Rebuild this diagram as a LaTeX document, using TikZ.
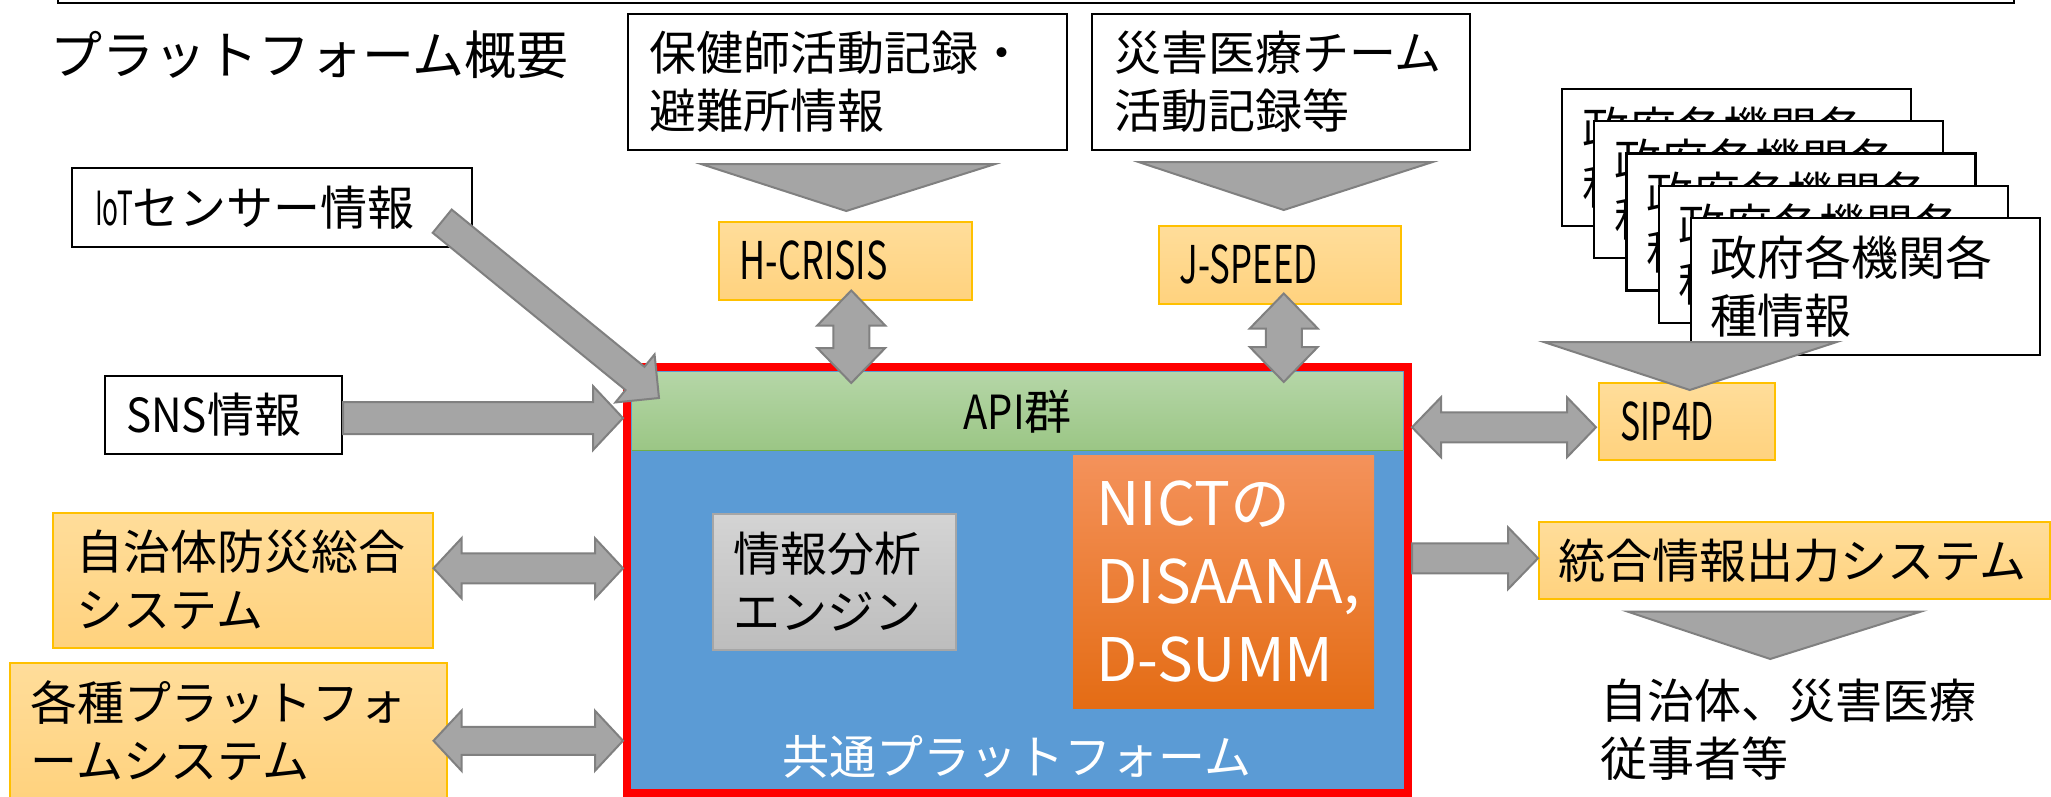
\documentclass[tikz,border=0pt]{standalone}
\usepackage{fontspec}
\setmainfont{Noto Sans CJK JP}
\usepackage{graphicx}
\usetikzlibrary{calc,positioning}

\definecolor{arrowgray}{HTML}{A5A5A5}
\definecolor{arrowedge}{HTML}{808080}
\definecolor{sysedge}{HTML}{FFC000}
\definecolor{systop}{HTML}{FFDD9A}
\definecolor{sysbottom}{HTML}{FFD27E}
\definecolor{apitop}{HTML}{B5D6A7}
\definecolor{apibottom}{HTML}{9BC685}
\definecolor{apiline}{HTML}{70AD47}
\definecolor{platblue}{HTML}{5B9BD5}
\definecolor{enginetop}{HTML}{D4D4D4}
\definecolor{enginebottom}{HTML}{BDBDBD}
\definecolor{engineedge}{HTML}{A6A6A6}
\definecolor{nicttop}{HTML}{F4925B}
\definecolor{nictbottom}{HTML}{E46C14}

\newcommand{\bodysize}{\fontsize{47}{58}\selectfont}
\newcommand{\narrowtext}[2]{\scalebox{#1}[1]{#2}}

% block arrow: tail, tip, half shaft, half head, head length
\newcommand{\blockarrow}[5]{%
  \coordinate (ba-t) at (#1);
  \coordinate (ba-h) at (#2);
  \coordinate (ba-c) at ($(ba-h)!#5pt!(ba-t)$);
  \filldraw[grayarrow] ($(ba-t)!#3pt!90:(ba-h)$) -- ($(ba-c)!#3pt!90:(ba-h)$)
    -- ($(ba-c)!#4pt!90:(ba-h)$) -- (ba-h) -- ($(ba-c)!#4pt!-90:(ba-h)$)
    -- ($(ba-c)!#3pt!-90:(ba-h)$) -- ($(ba-t)!#3pt!-90:(ba-h)$) -- cycle;
}
% double block arrow
\newcommand{\dblarrow}[5]{%
  \coordinate (da-t) at (#1);
  \coordinate (da-h) at (#2);
  \coordinate (da-a) at ($(da-t)!#5pt!(da-h)$);
  \coordinate (da-b) at ($(da-h)!#5pt!(da-t)$);
  \filldraw[grayarrow] (da-t) -- ($(da-a)!#4pt!90:(da-h)$) -- ($(da-a)!#3pt!90:(da-h)$)
    -- ($(da-b)!#3pt!90:(da-h)$) -- ($(da-b)!#4pt!90:(da-h)$) -- (da-h)
    -- ($(da-b)!#4pt!-90:(da-h)$) -- ($(da-b)!#3pt!-90:(da-h)$)
    -- ($(da-a)!#3pt!-90:(da-h)$) -- ($(da-a)!#4pt!-90:(da-h)$) -- cycle;
}

\tikzset{
  infobox/.style={draw=black, line width=2.2pt, fill=white, inner sep=0pt,
    anchor=north west, align=left, font=\bodysize},
  sysbox/.style={draw=sysedge, line width=1.5pt, top color=systop, bottom color=sysbottom,
    inner sep=0pt, anchor=north west, align=left, font=\bodysize},
  grayarrow/.style={fill=arrowgray, draw=arrowedge, line width=2pt, line join=miter},
}

\begin{document}
\begin{tikzpicture}[x=1pt,y=-1pt]
\useasboundingbox (0,0) rectangle (2051,797);

% frame and title
\draw[line width=2.5pt] (58,-20) rectangle (2014,3);
\node[font=\fontsize{52}{60}\selectfont, anchor=west, inner sep=0pt] (title) at (50,55) {プラットフォーム概要};

% sources
\node[infobox, minimum width=400, minimum height=79, text width=354] (iot) at (71,167)
  {\narrowtext{0.56}{IoT}センサー情報};
\node[infobox, minimum width=237, minimum height=78, text width=195] (sns) at (104,375)
  {\narrowtext{0.9}{SNS}情報};
\node[infobox, minimum width=439, minimum height=136, text width=397] (hoken) at (627,13)
  {保健師活動記録・\\避難所情報};
\node[infobox, minimum width=378, minimum height=136, text width=334] (saigai) at (1091,13)
  {災害医療チーム\\活動記録等};
\foreach \i in {0,...,4}
  \node[infobox, minimum width=349, minimum height=137, text width=309] (gov\i)
    at ({1561+32.2*\i},{88+32.2*\i}) {政府各機関各\\種情報};

% systems
\node[sysbox, minimum width=253, minimum height=78, text width=211, font=\fontsize{52}{60}\selectfont] (hcrisis) at (718,221)
  {\narrowtext{0.69}{H-CRISIS}};
\node[sysbox, minimum width=242, minimum height=78, text width=200, font=\fontsize{52}{60}\selectfont] (jspeed) at (1158,225)
  {\narrowtext{0.67}{J-SPEED}};
\node[sysbox, minimum width=176, minimum height=77, text width=132, font=\fontsize{52}{60}\selectfont] (sip4d) at (1598,382)
  {\narrowtext{0.65}{SIP4D}};
\node[sysbox, minimum width=511, minimum height=77, text width=472] (tougou) at (1538,521)
  {統合情報出力システム};
\node[sysbox, minimum width=380, minimum height=135, text width=332] (jichi) at (52,512)
  {自治体防災総合\\システム};
\node[sysbox, minimum width=437, minimum height=136, text width=395] (kakushu) at (9,662)
  {各種プラットフォ\\ームシステム};

% common platform
\node[draw=red, line width=8pt, fill=platblue, minimum width=781, minimum height=426,
  anchor=north west, inner sep=0pt] (plat) at (623,363) {};
\node[top color=apitop, bottom color=apibottom, minimum width=771, minimum height=78,
  anchor=north west, inner sep=0pt, font=\bodysize] (api) at (632,372)
  {\narrowtext{0.85}{API}群};
\draw[apiline, line width=1.5pt] (api.south west) -- (api.south east);
\node[draw=engineedge, line width=1.5pt, top color=enginetop, bottom color=enginebottom,
  minimum width=243, minimum height=136, text width=201, inner sep=0pt, anchor=north west,
  align=left, font=\bodysize] (engine) at (712,513) {情報分析\\エンジン};
\node[top color=nicttop, bottom color=nictbottom, minimum width=301, minimum height=253,
  text width=255, inner sep=0pt, anchor=north west, align=left, text=white,
  font=\fontsize{60}{78}\selectfont] (nict) at (1073,455) {NICTの\\DISAANA,\\D-SUMM};
\node[font=\bodysize, text=white] (common) at (1017,757) {共通プラットフォーム};

% output
\node[font=\bodysize, anchor=north west, align=left, inner sep=0pt] (users) at (1600,679)
  {自治体、災害医療\\従事者等};

% chevrons
\filldraw[grayarrow] ($(hoken.south)+(-146,13)$) -- ($(hoken.south)+(147,13)$)
  -- ($(hcrisis.north)+(1,-10)$) -- cycle;
\filldraw[grayarrow] ($(saigai.south)+(-142,11)$) -- ($(saigai.south)+(151,11)$)
  -- ($(jspeed.north)+(4,-15)$) -- cycle;
\filldraw[grayarrow] ($(sip4d.north)+(-143,-40)$) -- ($(sip4d.north)+(150,-40)$)
  -- ($(sip4d.north)+(3,8)$) -- cycle;
\filldraw[grayarrow] ($(tougou.south)+(-167,12)$) -- ($(tougou.south)+(127,12)$)
  -- ($(users.north)+(-18,-20)$) -- cycle;

% arrows
\blockarrow{$(iot.south east)+(-31,-27)$}{$(plat.north west)+(36,35)$}{15}{31}{31}
\coordinate (snsmid) at ($(sns.east)+(0,3)$);
\blockarrow{snsmid}{plat.west |- snsmid}{16}{32}{30}
\coordinate (jichimid) at ($(jichi.east)+(0,-12)$);
\dblarrow{jichimid}{plat.west |- jichimid}{15}{30}{28}
\coordinate (kakushumid) at ($(kakushu.east)+(-14,10)$);
\dblarrow{kakushumid}{plat.west |- kakushumid}{14}{30}{28}
\dblarrow{$(hcrisis.south)+(6,-10)$}{$(hcrisis.south |- plat.north)+(6,20)$}{18}{34}{35}
\dblarrow{$(jspeed.south)+(4,-11)$}{$(jspeed.south |- plat.north)+(4,19)$}{18}{34}{35}
\coordinate (sipmid) at ($(sip4d.west)+(0,6)$);
\dblarrow{plat.east |- sipmid}{$(sipmid)+(-2,0)$}{15}{30}{29}
\coordinate (tougoumid) at ($(tougou.west)+(0,-2)$);
\blockarrow{plat.east |- tougoumid}{tougoumid}{15}{31}{30}

\end{tikzpicture}
\end{document}
